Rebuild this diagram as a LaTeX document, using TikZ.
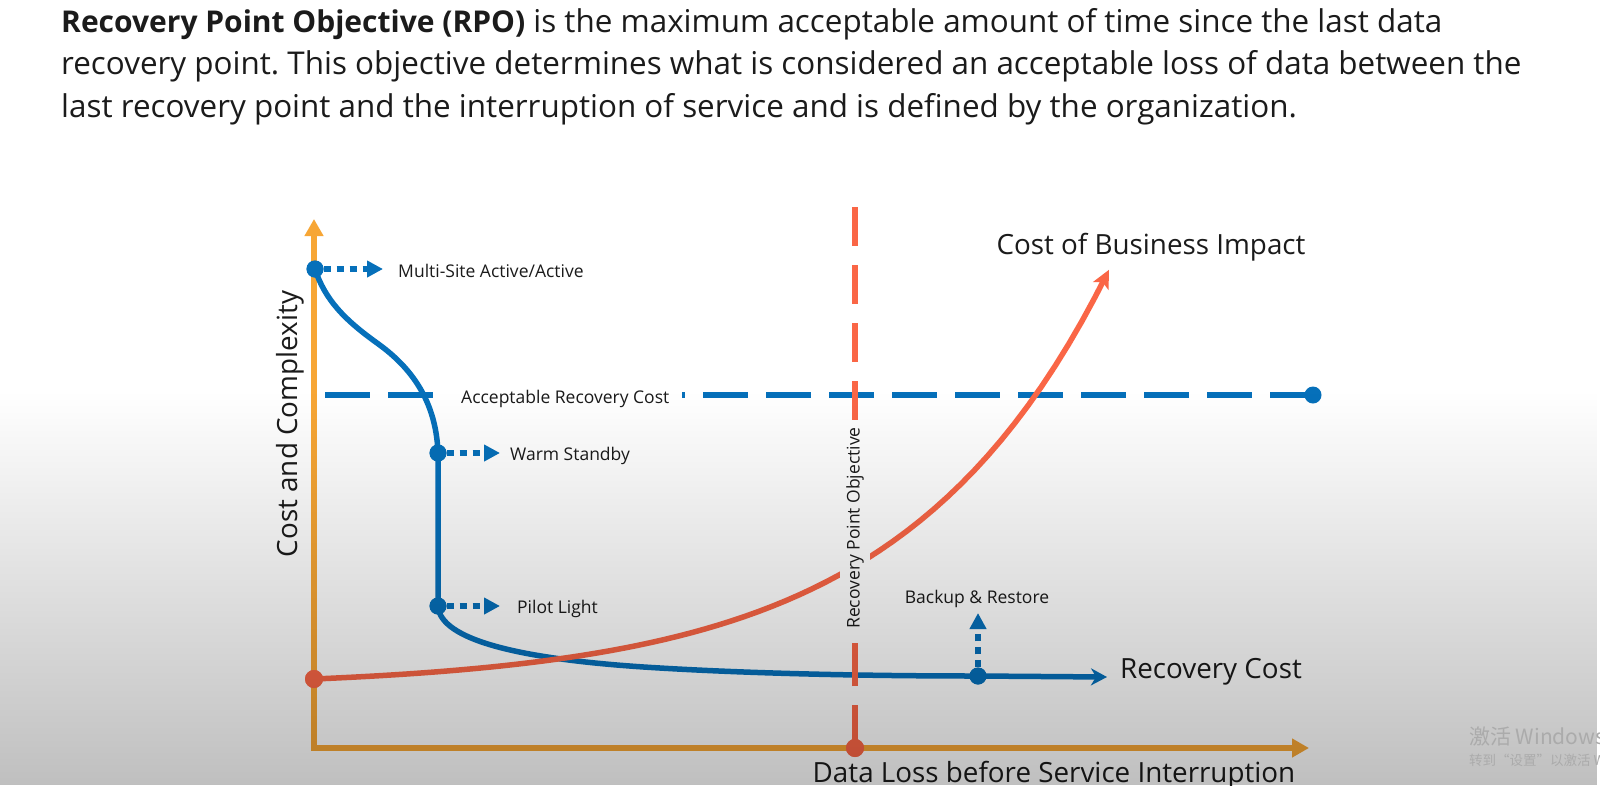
\documentclass[tikz,border=0pt]{standalone}
\usepackage{fontspec}
\setmainfont{Open Sans}
\newfontfamily\cjkfont{Noto Sans CJK SC}
\usetikzlibrary{arrows.meta,fadings}
\frenchspacing

\definecolor{axisc}{HTML}{F7A635}
\definecolor{bluec}{HTML}{0670BA}
\definecolor{redc}{HTML}{FA6646}
\definecolor{inkc}{HTML}{1B1B1B}
\definecolor{marksc}{HTML}{ABABAB}

% darkening towards the bottom of the frame
\tikzfading[name=haze, top color=transparent!100, bottom color=transparent!0]

\newcommand{\leadin}[1]{{\fontsize{30}{36}\selectfont\bfseries #1}}

\begin{document}
\begin{tikzpicture}[x=1pt,y=-1pt,
  headtext/.style={anchor=base west, inner sep=0pt, text=inkc, font=\fontsize{31.4}{36}\selectfont},
  bigtext/.style={inner sep=0pt, text=inkc, font=\fontsize{27.8}{32}\selectfont},
  smalltext/.style={inner sep=0pt, text=inkc, font=\fontsize{17.5}{21}\selectfont},
  axisline/.style={line width=6pt, draw=axisc, line join=miter,
    {Triangle[length=17pt,width=18pt]}-{Triangle[length=17pt,width=18pt]}},
  bluecurve/.style={line width=5.5pt, draw=bluec, line join=round},
  redcurve/.style={line width=5.5pt, draw=redc, line join=round},
  bdot/.style={circle, fill=bluec, minimum size=17pt, inner sep=0pt},
  rdot/.style={circle, fill=redc, minimum size=18pt, inner sep=0pt},
  dotarrow/.style={line width=5.5pt, draw=bluec, dash pattern=on 7pt off 6pt,
    -{Triangle[length=16pt,width=16pt]}},
  costline/.style={line width=5.5pt, draw=bluec, dash pattern=on 45pt off 18pt},
]
\useasboundingbox (0,0) rectangle (1600,785);
\fill[white] (0,0) rectangle (1600,785);

% ---- heading paragraph ----
\node[headtext] (h1) at (61,32) {\leadin{Recovery Point Objective (RPO)} is the maximum acceptable amount of time since the last data};
\node[headtext] (h2) at (61,74.5) {recovery point. This objective determines what is considered an acceptable loss of data between the};
\node[headtext] (h3) at (61,117) {last recovery point and the interruption of service and is defined by the organization.};

% ---- axes ----
\coordinate (ytop) at (314,219);
\coordinate (orig) at (314,748);
\coordinate (xend) at (1309,748);
\draw[axisline] (ytop) -- (orig) -- (xend);

\node[bigtext, rotate=90] (ylab) at (290,424) {Cost and Complexity};
\node[bigtext, anchor=base] (xlab) at (1054,782) {Data Loss before Service Interruption};

% ---- acceptable recovery cost (dashed) ----
\node[bdot] (arc) at (1313,395) {};
\coordinate (arc0) at (325,395);
\draw[costline] (arc0) -- (arc.center);
\node[smalltext, fill=white, inner xsep=13pt, inner ysep=3pt, anchor=base west] (arcl) at (448,403) {Acceptable Recovery Cost};

% ---- recovery cost curve ----
\node[bdot] (ms) at (315,269) {};
\node[bdot] (ws) at (438,453) {};
\node[bdot] (pl) at (438,606) {};
\node[bdot] (br) at (978,676) {};
\coordinate (rcT) at (1107,677);
\draw[bluecurve, -{Stealth[length=16pt,width=17pt,inset=5pt]}]
  (ms.center) .. controls (325,300) and (345,320) .. (377,343)
  .. controls (405,363) and (436,395) .. (ws.center)
  -- (pl.center)
  .. controls (440,640) and (520,660) .. (660,668)
  .. controls (760,674) and (880,676) .. (br.center)
  -- (rcT);
\node[bdot] at (ms) {};
\node[bdot] at (ws) {};
\node[bdot] at (pl) {};
\node[bdot] at (br) {};

% strategy markers
\coordinate (msT) at (383,269);
\coordinate (wsT) at (500,453);
\coordinate (plT) at (500,606);
\coordinate (brT) at (978,613);
\draw[dotarrow] (ms.east) -- (msT);
\draw[dotarrow] (ws.east) -- (wsT);
\draw[dotarrow] (pl.east) -- (plT);
\draw[dotarrow] (br.north) -- (brT);
\node[smalltext, anchor=base west] (msl) at (398,277) {Multi-Site Active/Active};
\node[smalltext, anchor=base west] (wsl) at (510,460) {Warm Standby};
\node[smalltext, anchor=base west] (pll) at (517,613) {Pilot Light};
\node[smalltext, anchor=base] (brl) at (977,603) {Backup \& Restore};
\node[bigtext, anchor=base] (rcl) at (1211,678) {Recovery Cost};

% ---- recovery point objective (dashed) ----
\node[rdot] (rpo) at (855,748) {};
\coordinate (rpoT) at (855,207);
\coordinate (rpoA) at (855,421);
\coordinate (rpoB) at (855,641);
\draw[line width=5.5pt, draw=redc, dash pattern=on 39pt off 19pt] (rpoT) -- (rpoA);
\draw[line width=5.5pt, draw=redc, dash pattern=on 43pt off 19pt] (rpo.center) -- (rpoB);

% ---- cost of business impact ----
\node[rdot] (bi) at (314,679) {};
\draw[redcurve, -{Stealth[length=18pt,width=17pt,inset=4pt]}]
  plot[domain=314:1109, samples=60] (\x, {679 - 8.83*(exp(0.00485*(\x-314))-1)});
\node[rdot] at (bi) {};
\node[rdot] at (rpo) {};
\node[bigtext, anchor=base] (bil) at (1151,254) {Cost of Business Impact};

\node[smalltext, rotate=90, fill=white, inner sep=6pt] (rpol) at (855,528) {Recovery Point Objective};

% ---- shading over the lower part ----
\fill[black, path fading=haze, fill opacity=0.25] (0,392) rectangle (1600,785);

% ---- activation notice ----
\node[anchor=base west, inner sep=0pt, text=marksc, font=\cjkfont\fontsize{21}{24}\selectfont] (wm1) at (1469,744) {激活 Windows};
\node[anchor=base west, inner sep=0pt, text=marksc, font=\cjkfont\fontsize{13.5}{16}\selectfont] (wm2) at (1469,765) {转到“设置”以激活 W};
\end{tikzpicture}
\end{document}
